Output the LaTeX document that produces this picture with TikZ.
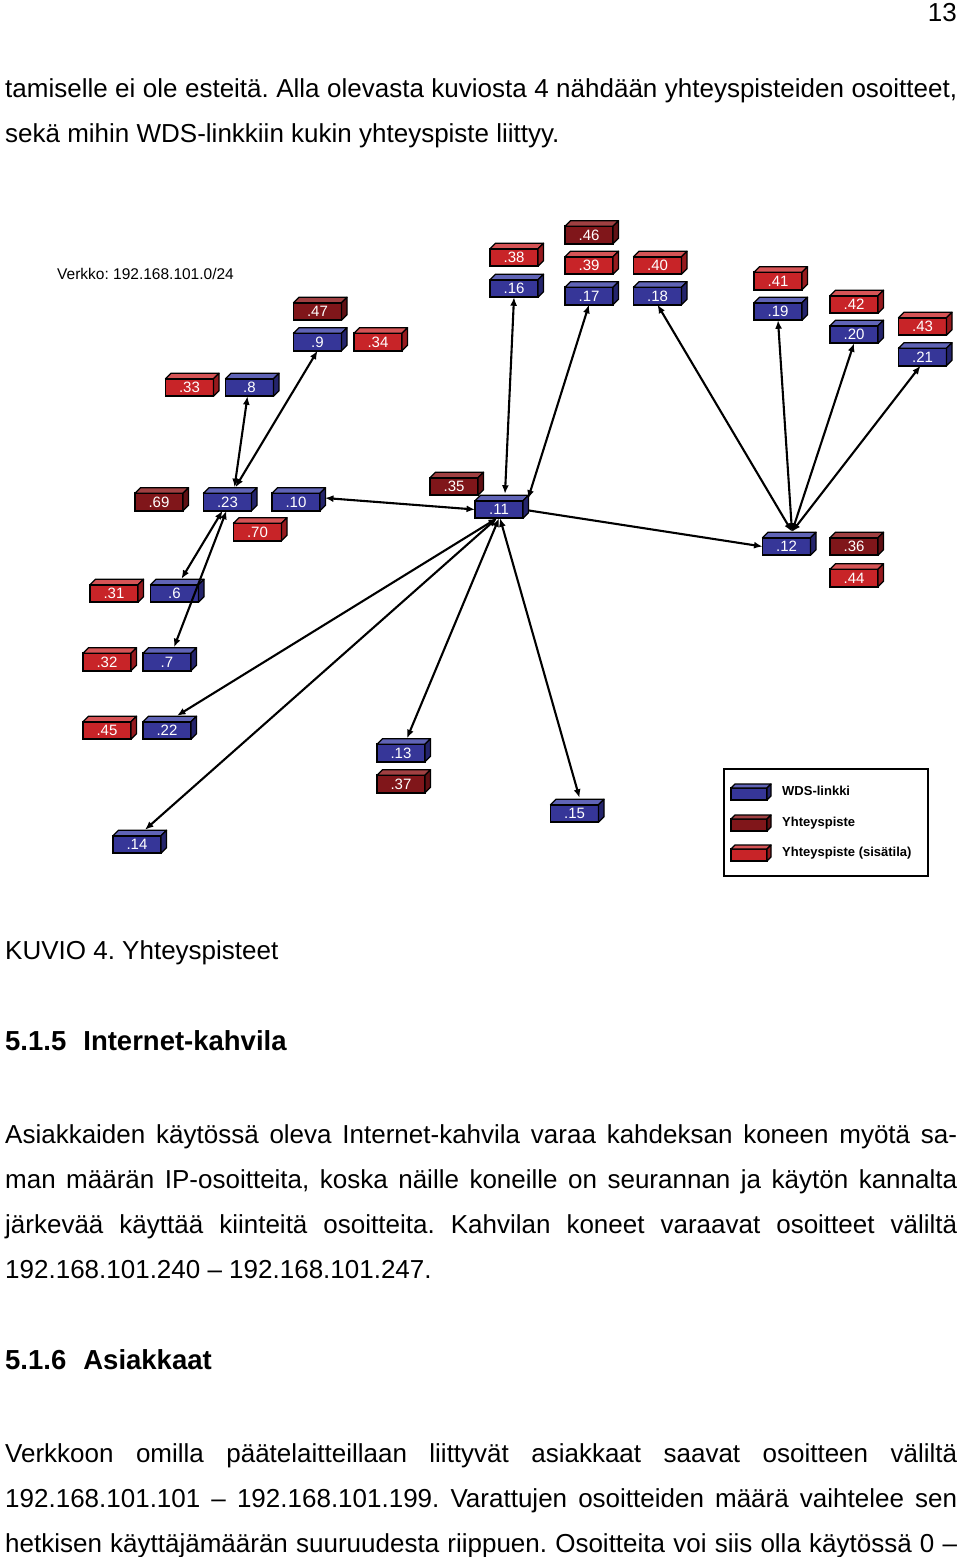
\documentclass[tikz,border=0pt]{standalone}
\usepackage{fontspec}
\setmainfont{Liberation Sans}
\usetikzlibrary{arrows.meta}
\pgfdeclarelayer{bg}
\pgfsetlayers{bg,main}
\frenchspacing
\definecolor{wdsF}{RGB}{54,54,152}
\definecolor{wdsT}{RGB}{96,100,182}
\definecolor{wdsS}{RGB}{36,36,108}
\definecolor{apdF}{RGB}{128,22,26}
\definecolor{apdT}{RGB}{160,64,66}
\definecolor{apdS}{RGB}{96,16,20}
\definecolor{aprF}{RGB}{200,36,40}
\definecolor{aprT}{RGB}{214,84,86}
\definecolor{aprS}{RGB}{150,26,30}
\tikzset{
 boxsize/.style={minimum width=48pt,minimum height=17.5pt},
 box/.style={rectangle,draw=black,line width=1.7pt,outer sep=0pt,inner sep=0pt,boxsize,text=white,font=\fontsize{15pt}{15pt}\selectfont},
 wds/.style={fill=wdsF}, apd/.style={fill=apdF}, apr/.style={fill=aprF},
 link/.style={line width=2.1pt,draw=black},
 arr/.style={link,{Latex[length=8.5pt,width=7pt]}-{Latex[length=8.5pt,width=7pt]}},
 arrone/.style={link,-{Latex[length=8.5pt,width=7pt]}},
 txt/.style={anchor=base west,inner sep=0pt,font=\fontsize{26pt}{30pt}\selectfont},
 hd/.style={anchor=base west,inner sep=0pt,font=\fontsize{27.5pt}{32pt}\selectfont\bfseries},
 lgtxt/.style={anchor=base west,inner sep=0pt,font=\fontsize{13pt}{15pt}\selectfont\bfseries},
}
\newcommand\ipb[6][5.5]{%
  \node[box,#5] (#2) at (#3,#4) {#6};
  \filldraw[fill=#5T,line width=1.3pt,line join=round] (#2.north west) -- ++(#1,-#1) -- ([shift={(#1,-#1)}]#2.north east) -- (#2.north east) -- cycle;
  \filldraw[fill=#5S,line width=1.3pt,line join=round] (#2.north east) -- ++(#1,-#1) -- ([shift={(#1,-#1)}]#2.south east) -- (#2.south east) -- cycle;
}
\begin{document}
\begin{tikzpicture}[x=1pt,y=-1pt]
\useasboundingbox[fill=white] (0,0) rectangle (960,1557);

% page text
\node[anchor=base east,inner sep=0pt,font=\fontsize{26pt}{30pt}\selectfont] (pg) at (957,22) {13};
\node[txt] (t1) at (5,98) {\makebox[952pt][s]{tamiselle ei ole esteitä. Alla olevasta kuviosta 4 nähdään yhteyspisteiden osoitteet,}};
\node[txt] (t2) at (5,143) {sekä mihin WDS-linkkiin kukin yhteyspiste liittyy.};
\node[txt] (cap) at (5,959) {KUVIO 4. Yhteyspisteet};
\node[hd] (h1) at (5,1050) {5.1.5\hspace{17pt}Internet-kahvila};
\node[txt] (p1) at (5,1143) {\makebox[952pt][s]{Asiakkaiden käytössä oleva Internet-kahvila varaa kahdeksan koneen myötä sa-}};
\node[txt] (p2) at (5,1188) {\makebox[952pt][s]{man määrän IP-osoitteita, koska näille koneille on seurannan ja käytön kannalta}};
\node[txt] (p3) at (5,1233) {\makebox[952pt][s]{järkevää käyttää kiinteitä osoitteita. Kahvilan koneet varaavat osoitteet väliltä}};
\node[txt] (p4) at (5,1278) {192.168.101.240 – 192.168.101.247.};
\node[hd] (h2) at (5,1369) {5.1.6\hspace{17pt}Asiakkaat};
\node[txt] (q1) at (5,1462) {\makebox[952pt][s]{Verkkoon omilla päätelaitteillaan liittyvät asiakkaat saavat osoitteen väliltä}};
\node[txt] (q2) at (5,1507) {\makebox[952pt][s]{192.168.101.101 – 192.168.101.199. Varattujen osoitteiden määrä vaihtelee sen}};
\node[txt] (q3) at (5,1552) {\makebox[952pt][s]{hetkisen käyttäjämäärän suuruudesta riippuen. Osoitteita voi siis olla käytössä 0 –}};

% diagram
\node[anchor=base west,inner sep=0pt,font=\fontsize{15.5pt}{18pt}\selectfont] (verkko) at (57,279.5) {Verkko: 192.168.101.0/24};

\ipb{n47}{317.5}{311.5}{apd}{.47}
\ipb{n9}{317.5}{342}{wds}{.9}
\ipb{n34}{378}{342}{apr}{.34}
\ipb{n33}{189.5}{387.5}{apr}{.33}
\ipb{n8}{249.5}{387.5}{wds}{.8}
\ipb{n38}{514}{257.5}{apr}{.38}
\ipb{n16}{514}{288.5}{wds}{.16}
\ipb{n46}{589}{235}{apd}{.46}
\ipb{n39}{589}{265.5}{apr}{.39}
\ipb{n17}{589}{296}{wds}{.17}
\ipb{n40}{657.5}{265.5}{apr}{.40}
\ipb{n18}{657.5}{296}{wds}{.18}
\ipb{n41}{778}{281}{apr}{.41}
\ipb{n19}{778}{311.5}{wds}{.19}
\ipb{n42}{854}{304.5}{apr}{.42}
\ipb{n20}{854}{334.5}{wds}{.20}
\ipb{n43}{922.5}{326.5}{apr}{.43}
\ipb{n21}{922.5}{357}{wds}{.21}
\ipb{n69}{159}{502}{apd}{.69}
\ipb{n23}{227.5}{502}{wds}{.23}
\ipb{n10}{296}{502}{wds}{.10}
\ipb{n70}{257.5}{532}{apr}{.70}
\ipb{n35}{454}{486.5}{apd}{.35}
\ipb{n11}{499}{509.5}{wds}{.11}
\ipb{n12}{786.5}{546.5}{wds}{.12}
\ipb{n36}{854}{546.5}{apd}{.36}
\ipb{n44}{854}{578}{apr}{.44}
\ipb{n31}{114}{593.5}{apr}{.31}
\ipb{n6}{174.5}{593.5}{wds}{.6}
\ipb{n32}{107}{662}{apr}{.32}
\ipb{n7}{167}{662}{wds}{.7}
\ipb{n45}{107}{730.5}{apr}{.45}
\ipb{n22}{167}{730.5}{wds}{.22}
\ipb{n13}{401}{753}{wds}{.13}
\ipb{n37}{401}{784}{apd}{.37}
\ipb{n14}{137}{844.5}{wds}{.14}
\ipb{n15}{574.5}{813.5}{wds}{.15}

% access point attachments (behind boxes)
\begin{pgfonlayer}{bg}
\draw[link] ([xshift=10]n47.south) -- ([xshift=5]n9.north);
\draw[link] ([yshift=-5]n9.east) -- (n34.west);
\draw[link] ([yshift=-5]n33.east) -- (n8.west);
\draw[link] (n38.south) -- (n16.north);
\draw[link] ([xshift=1]n46.south) -- ([xshift=1]n17.north);
\draw[link] ([xshift=5]n39.south) -- ([xshift=6]n17.north);
\draw[link] (n40.south) -- (n18.north);
\draw[link] (n41.south) -- ([xshift=5]n19.north);
\draw[link] (n42.south) -- ([xshift=5]n20.north);
\draw[link] (n43.south) -- (n21.north);
\draw[link] ([yshift=-5]n69.east) -- (n23.west);
\draw[link] ([yshift=-2]n23.east) -- (n10.west);
\draw[link] (n23.east) -- ([xshift=5]n70.north);
\draw[link] (n35.north east) -- ([shift={(3,-6)}]n11.north);
\draw[link] ([yshift=-6]n12.east) -- (n36.west);
\draw[link] (n12.south) -- (n44.west);
\draw[link] ([yshift=-4]n31.east) -- (n6.west);
\draw[link] ([yshift=-4]n32.east) -- ([yshift=-4]n7.west);
\draw[link] ([yshift=-5]n45.east) -- (n22.west);
\draw[link] ([xshift=1]n13.south) -- ([xshift=4]n37.north);
\end{pgfonlayer}

% WDS links
\draw[arr] ([shift={(7,-6)}]n23.north) -- ([xshift=-2]n8.south);
\draw[arr] ([shift={(8,-6)}]n23.north) -- (n9.south);
\draw[arr] ([xshift=-5]n23.south) -- ([shift={(7,-6)}]n6.north);
\draw[arr] ([xshift=-1]n23.south) -- ([shift={(7,-6)}]n7.north);
\draw[arr] ([shift={(5,-4)}]n10.east) -- (n11.west);
\draw[arrone] ([shift={(6,1)}]n11.east) -- (n12.west);
\draw[arr] (n16.south) -- ([shift={(6,-7)}]n11.north);
\draw[arr] (n17.south) -- ([shift={(5,-2)}]n11.north east);
\draw[arr] ([xshift=-2]n11.south) -- ([shift={(10,-6)}]n22.north);
\draw[arr] ([xshift=-2]n11.south) -- ([shift={(8,-6)}]n14.north);
\draw[arr] (n11.south) -- ([shift={(6,-6)}]n13.north);
\draw[arr] ([xshift=1]n11.south) -- ([shift={(5,-7)}]n15.north);
\draw[arr] (n18.south) -- ([shift={(5.5,-6)}]n12.north);
\draw[arr] (n19.south) -- ([shift={(5.5,-6)}]n12.north);
\draw[arr] (n20.south) -- ([shift={(5.5,-6)}]n12.north);
\draw[arr] ([xshift=-2]n21.south) -- ([shift={(5.5,-6)}]n12.north);

% legend
\node[draw=black,line width=2pt,minimum width=204pt,minimum height=107pt,inner sep=0pt] (legend) at (826,822.5) {};
\begin{scope}[boxsize/.style={minimum width=36pt,minimum height=12pt}]
\ipb[4]{lg1}{749}{794}{wds}{}
\ipb[4]{lg2}{749}{825}{apd}{}
\ipb[4]{lg3}{749}{855}{apr}{}
\end{scope}
\node[lgtxt] (lt1) at (782,795.5) {WDS-linkki};
\node[lgtxt] (lt2) at (782,826) {Yhteyspiste};
\node[lgtxt] (lt3) at (782,856.5) {Yhteyspiste (sisätila)};
\end{tikzpicture}
\end{document}
